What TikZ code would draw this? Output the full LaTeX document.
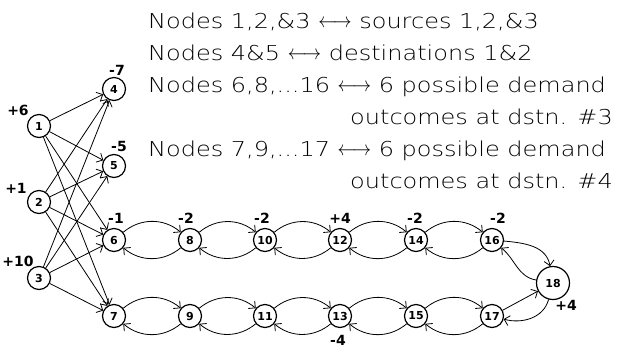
\documentclass[tikz,border=0pt]{standalone}
\usepackage{fontspec}
\usepackage{graphicx}
\setmainfont{DejaVu Sans}
\newfontfamily\notefont[FakeStretch=1.17]{DejaVu Sans ExtraLight}
\usetikzlibrary{arrows.meta}
% thin double-headed arrow used in the legend
\newcommand{\lr}{\raisebox{0.5pt}{\scalebox{0.88}[1]{$\longleftrightarrow$}}}

\begin{document}
\begin{tikzpicture}[x=1pt,y=-1pt,
  every node/.style={inner sep=0pt},
  vtx/.style={circle, draw, line width=1.2pt, minimum size=23pt,
    font=\fontsize{11}{11}\selectfont\bfseries},
  bigvtx/.style={vtx, minimum size=33pt},
  val/.style={font=\fontsize{14}{14}\selectfont\bfseries},
  arc/.style={line width=0.8pt, -{Straight Barb[length=5pt,width=10pt]}},
  note/.style={font=\notefont\fontsize{20.5}{20.5}\selectfont}
]
\useasboundingbox (0,0) rectangle (621,349);

% sources
\node[vtx] (n1) at (39,126) {1};
\node[vtx] (n2) at (39,202) {2};
\node[vtx] (n3) at (39,278) {3};
% destinations
\node[vtx] (n4) at (114,89) {4};
\node[vtx] (n5) at (114,166) {5};
% demand outcome chains
\foreach \k/\x in {6/114,8/190,10/265,12/340,14/416,16/492}
  \node[vtx] (n\k) at (\x,240) {\k};
\foreach \k/\x in {7/114,9/190,11/265,13/340,15/416,17/492}
  \node[vtx] (n\k) at (\x,316) {\k};
\node[bigvtx] (n18) at (553,283) {18};

% supplies and demands
\node[val] (s1) at (18,110) {+6};
\node[val] (s2) at (16,188) {+1};
\node[val] (s3) at (18,261) {+10};
\node[val] (d4) at (117,70) {-7};
\node[val] (d5) at (119,146) {-5};
\node[val] (d6) at (116,218) {-1};
\node[val] (d8) at (186,218) {-2};
\node[val] (d10) at (262,218) {-2};
\node[val] (d12) at (340,218) {+4};
\node[val] (d14) at (415,218) {-2};
\node[val] (d16) at (498,218) {-2};
\node[val] (d13) at (338,340) {-4};
\node[val] (d18) at (566,305) {+4};

% transport links
\foreach \s in {1,2,3}
  \foreach \t in {4,5,6,7}
    \draw[arc] (n\s) -- (n\t);

% links between neighbouring outcomes
\foreach \a/\b in {6/8,8/10,10/12,12/14,14/16,7/9,9/11,11/13,13/15,15/17}{
  \draw[arc] (n\a) to[out=40,in=140] (n\b);
  \draw[arc] (n\b) to[out=-140,in=-40] (n\a);
}

% links through node 18
\draw[arc] (n16) to[out=-5,in=100] (n18);
\draw[arc] (n18) to[out=170,in=-40] (n16);
\draw[arc] (n17) -- (n18);
\draw[arc] (n18) to[out=-105,in=-15] (n17);

% legend
\node[note,anchor=base west] (l1) at (148,28) {Nodes 1,2,\&3 \lr{} sources 1,2,\&3};
\node[note,anchor=base west] (l2) at (148,60) {Nodes 4\&5 \lr{} destinations 1\&2};
\node[note,anchor=base west] (l3) at (148,92) {Nodes 6,8,...16 \lr{} 6 possible demand};
\node[note,anchor=base east] (l4) at (613,124) {outcomes at dstn. \#3};
\node[note,anchor=base west] (l5) at (148,156) {Nodes 7,9,...17 \lr{} 6 possible demand};
\node[note,anchor=base east] (l6) at (613,188) {outcomes at dstn. \#4};
\end{tikzpicture}
\end{document}
